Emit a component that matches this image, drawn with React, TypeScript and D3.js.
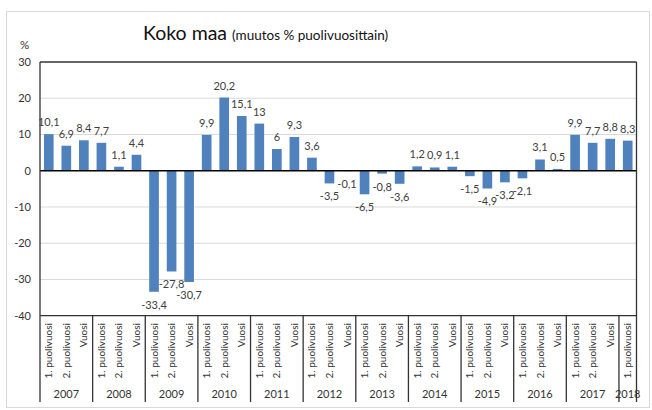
import React from "react";
import * as d3 from "d3";

const years = ["2007","2008","2009","2010","2011","2012","2013","2014","2015","2016","2017","2018"];
const periods = ["1. puolivuosi","2. puolivuosi","Vuosi"];
const values2007 = [10.1, 6.9, 8.4];
const values2008 = [7.7, 1.1, 4.4];
const values2009 = [-33.4, -27.8, -30.7];
const values2010 = [9.9, 20.2, 15.1];
const values2011 = [13, 6, 9.3];
const values2012 = [3.6, -3.5, -0.1];
const values2013 = [-6.5, -0.8, -3.6];
const values2014 = [1.2, 0.9, 1.1];
const values2015 = [-1.5, -4.9, -3.2];
const values2016 = [-2.1, 3.1, 0.5];
const values2017 = [9.9, 7.7, 8.8];
const values2018 = [8.3];
const yTicks = [-40, -30, -20, -10, 0, 10, 20, 30];

const allValues = [values2007, values2008, values2009, values2010, values2011, values2012, values2013, values2014, values2015, values2016, values2017, values2018];

type Row = { key: string; year: string; period: string; value: number };
const rows: Row[] = [];
allValues.forEach((vals, yi) => {
  vals.forEach((v, pi) => {
    rows.push({ key: `${years[yi]}-${pi}`, year: years[yi], period: periods[pi], value: v });
  });
});

const FONT = "Lato, 'Open Sans', sans-serif";

export default function App() {
  const W = 652, H = 410;
  const left = 40, right = 636.5, top = 62, bottom = 315.7;
  const x = d3.scaleBand<string>().domain(rows.map(r => r.key)).range([left, right]).paddingInner(0.45).paddingOuter(0.225);
  const y = d3.scaleLinear().domain([-40, 30]).range([bottom, top]);
  const fmt = (v: number) => String(v).replace(".", ",");

  const groups: { year: string; x0: number; x1: number }[] = [];
  let idx = 0;
  const step = x.step();
  allValues.forEach((vals, yi) => {
    const x0 = left + idx * step;
    const x1 = left + (idx + vals.length) * step;
    groups.push({ year: years[yi], x0, x1 });
    idx += vals.length;
  });

  return (
    <svg width={W} height={H} style={{ position: "absolute", left: 0, top: 0, fontFamily: FONT }}>
      <rect x={0} y={0} width={W} height={H} fill="#fff" />
      <rect x={6.5} y={11.5} width={643} height={396} fill="none" stroke="#d9d9d9" strokeWidth={1} />
      <text x={143} y={40} fontSize={19.5} fill="#111">
        Koko maa <tspan fontSize={13.5}>(muutos % puolivuosittain)</tspan>
      </text>
      <text x={20} y={49} fontSize={11.5} fill="#333">%</text>
      {yTicks.map(t => (
        <g key={t}>
          {t !== 0 && t !== 30 && t !== -40 && (
            <line x1={left} x2={right} y1={y(t)} y2={y(t)} stroke="#d9d9d9" strokeWidth={1} />
          )}
          <text x={31} y={y(t) + 4} fontSize={11} textAnchor="end" fill="#333">{t}</text>
        </g>
      ))}
      {rows.map(r => (
        <rect key={r.key} x={x(r.key)} width={x.bandwidth()}
          y={r.value >= 0 ? y(r.value) : y(0)}
          height={Math.abs(y(r.value) - y(0))} fill="#4F81BD" />
      ))}
      <line x1={left} x2={right} y1={y(0)} y2={y(0)} stroke="#000" strokeWidth={1.3} />
      <line x1={left} x2={right} y1={top} y2={top} stroke="#333" strokeWidth={1.3} />
      <line x1={left} x2={right} y1={bottom} y2={bottom} stroke="#333" strokeWidth={1.3} />
      <line x1={left} x2={left} y1={top} y2={402} stroke="#333" strokeWidth={1.3} />
      <line x1={right} x2={right} y1={top} y2={402} stroke="#333" strokeWidth={1.3} />
      {rows.map(r => {
        const cx = (x(r.key) as number) + x.bandwidth() / 2;
        const ly = r.value >= 0 ? y(r.value) - 8 : y(r.value) + 17;
        return (
          <text key={"l" + r.key} x={cx} y={ly} fontSize={11} textAnchor="middle" fill="#404040">{fmt(r.value)}</text>
        );
      })}
      {rows.map(r => {
        const cx = (x(r.key) as number) + x.bandwidth() / 2 + 3.5;
        return (
          <text key={"c" + r.key} transform={`translate(${cx},${323}) rotate(-90)`} fontSize={10} textAnchor="end" fill="#333">{r.period}</text>
        );
      })}
      {groups.map((g, i) => (
        <g key={g.year}>
          {i > 0 && <line x1={g.x0} x2={g.x0} y1={bottom} y2={402} stroke="#333" strokeWidth={1.3} />}
          <text x={(g.x0 + g.x1) / 2} y={398} fontSize={11} textAnchor="middle" fill="#333">{g.year}</text>
        </g>
      ))}
    </svg>
  );
}
